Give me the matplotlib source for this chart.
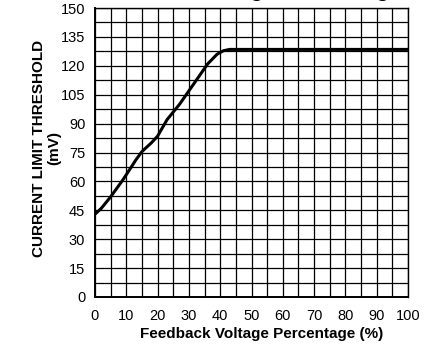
import matplotlib
matplotlib.use("Agg")
import matplotlib.pyplot as plt
import numpy as np

plt.rcParams['font.family'] = ['Liberation Sans', 'DejaVu Sans']

# Current limit threshold vs feedback voltage percentage
fb_pct = [0, 2, 5, 9, 11, 13, 15, 18, 20, 23, 25, 27, 30, 33, 36, 39, 41, 43, 46, 100]
threshold_mv = [43, 46, 52, 61, 66, 71, 75.5, 80, 83.5, 92, 96, 100, 107, 114, 121,
                126, 127.8, 128.5, 128.5, 128.5]

x_ticks = list(range(0, 101, 10))
y_ticks = list(range(0, 151, 15))

fig = plt.figure(figsize=(4.31, 3.45), dpi=100)
ax = fig.add_axes([95 / 431, 48 / 345, 313 / 431, 289 / 345])

ax.plot(fb_pct, threshold_mv, color='black', lw=2.2, solid_capstyle='round', zorder=3)

ax.set_xlim(0, 100)
ax.set_ylim(0, 150)
ax.set_xticks(x_ticks)
ax.set_yticks(y_ticks)
ax.set_xticks(np.arange(5, 100, 10), minor=True)
ax.set_yticks(np.arange(7.5, 150, 15), minor=True)
ax.grid(True, which='both', color='black', lw=0.9)
ax.tick_params(which='both', length=0, labelsize=10.5)
ax.tick_params(axis='x', pad=9)
ax.tick_params(axis='y', pad=7)
for side in ['left', 'bottom']:
    ax.spines[side].set_linewidth(1.4)
for side in ['top', 'right']:
    ax.spines[side].set_linewidth(1.0)

ax.set_xlabel('Feedback Voltage Percentage (%)', fontsize=11, fontweight='bold')
ax.xaxis.set_label_coords(0.532, -0.104)
ax.set_ylabel('CURRENT LIMIT THRESHOLD\n(mV)', fontsize=11, fontweight='bold',
              linespacing=1.15)
ax.yaxis.set_label_coords(-0.108, 0.514)

fig.text(402 / 431, 1.0 + 3.5 / 345, 'Current Limit Threshold vs Voltage Percentage',
         fontsize=16, fontweight='bold', ha='right', va='baseline')

fig.savefig('out.png', dpi=100)
